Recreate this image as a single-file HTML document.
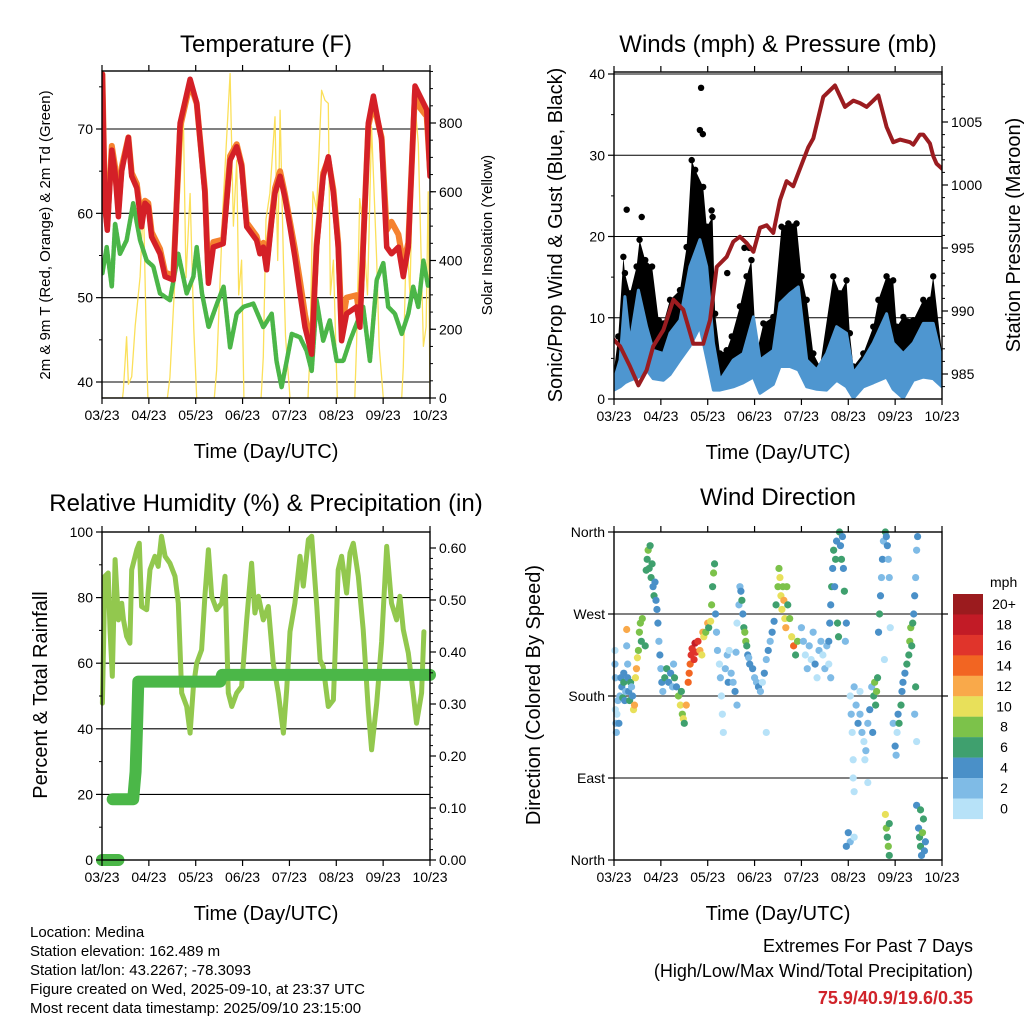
<!DOCTYPE html>
<html><head><meta charset="utf-8"><style>
html,body{margin:0;padding:0;background:#fff;}
svg{display:block;font-family:"Liberation Sans",Arial,sans-serif;}
</style></head><body>
<svg id="chart" width="1024" height="1024" viewBox="0 0 1024 1024" xmlns="http://www.w3.org/2000/svg"></svg>
<script>
// ---------- Temperature panel data (hours since start, deg F / W m-2) ----------
const tempHours=[0.2,1.5,2.7,5,6.7,8.4,10.1,13.5,15.2,17.8,20.3,22,23.7,25.4,29.7,32.3,36.5,40,45.1,48.5,52.7,54.5,57,62.1,65.6,69,71.5,74.1,79.2,80.9,82.6,84.3,86.9,88.6,91.2,93.7,96.3,98.8,101.4,104,107.4,109.9,113.3,115.9,118.5,121,122.7,125.3,130.4,132.1,136.4,139,143.2,145.8,148.3,151.8,154.3,156.9,160.3,162.9,166.3,168];
const temp2m=[76.5,60.8,58,67.5,64.8,59.6,65,69,64.4,63,58.4,61.2,60.8,57.2,55.2,52.5,52.1,70.7,75.9,73.1,62.4,51.7,56,56.4,66.3,67.9,65.6,58.4,56.8,55.2,56,53.3,59.2,62.4,64.4,61.9,58.4,54.8,50.5,46.5,43.3,56,64.4,66.7,62.4,56,44.9,48.1,48.9,46.5,70.7,73.9,68.7,56,55.2,56,52.5,56,75.1,73.9,72.3,64.4];
const temp9m=[76.5,61.2,58.5,68,65.5,60.5,65.5,69,64.8,63.5,59,61.5,61.2,57.8,55.8,53,52.6,70.2,75.4,73,62.8,52.3,56.6,56.9,66.8,68.2,65.8,58.9,57.3,55.7,56.5,53.9,59.5,63,65,62.3,59,55.8,52,48,44,56.3,64.8,66.4,62.8,56.5,46.5,50,50.3,47.5,70.3,73,69,58,59,57.5,54,56.5,74.5,72.5,71.5,65];
const dewHours=[0.2,2.4,5,6.7,9.2,12.6,16,19.5,22.9,26.3,29.7,34.8,39.1,43.4,46.8,48.5,51.2,54.6,58.9,62.3,65.6,69,72.4,77.5,82.6,86.9,89.4,92,94.6,97.2,101.4,104.8,107.4,109.9,113.3,116.7,120.2,123.6,127,130.4,133.8,137.2,140.7,144.1,146.6,150,153.5,156.9,159.4,162,164.6,167.1];
const dewF=[52.9,56,51.3,58.8,55.2,56.8,61.2,56.8,54.4,53.7,50.5,49.7,55.2,50.5,52.5,56,50.5,46.5,49.3,51.3,44.1,48.1,48.9,49.3,46.5,48.1,42.5,39.4,42.5,45.7,45.3,43.7,41.3,49.7,44.9,47.3,42.5,42.5,44.9,46.9,48.9,42.5,52.1,54.1,48.9,48.1,45.7,48.1,51.3,48.9,54.4,51.3];
const solarHours=[0,10.5,10.9,12.6,13.5,15.2,17,19.5,21.2,22.9,23.5,33.5,34.8,38,41.7,43,45.1,47,48.5,57.5,58.7,62,65.6,67.3,69,70,71.5,72.7,81.5,82.6,84,86,88.6,90,91.2,92.9,94,96.3,105.5,106.5,108,109.9,112.5,114.2,115.9,117,118.5,120.5,129.5,130.4,132,133.8,136,138.1,140.7,142,144.1,153.5,154.3,156,157.7,160,162,164.6,166,167.1,168];
const solarW=[0,0,20,178,40,62,210,353,576,120,0,0,60,420,808,350,595,200,0,0,80,560,944,500,692,300,401,0,0,120,520,596,818,400,837,401,180,0,0,130,600,547,895,866,857,300,401,0,0,160,580,498,300,789,400,150,0,0,90,498,300,876,740,150,207,600,0];
// ---------- Winds & pressure panel data ----------
const windHours=[0,3.1,5.6,8.2,12.5,16.7,20.1,25.3,28.7,33.8,38.9,44,47.5,50.9,54.3,61.1,66.2,71.4,74.8,81.6,85,90.1,94.4,98.7,103.8,108.9,114,119.1,122.6,127.7,132.8,139.6,143,148.2,153.3,158.4,163.5,168];
const windHi=[2.3,4.8,12.6,6.9,13.4,8.9,6.0,5.6,8.1,9.7,16.3,19.6,16.3,6.9,2.3,4.8,5.6,10.1,4.8,6.0,11.8,13.0,13.8,4.8,3.6,5.6,8.9,8.1,3.2,4.8,6.9,10.5,6.9,5.6,6.9,9.3,9.3,4.8];
const windLo=[1.1,1.5,2.0,2.3,2.7,3.6,2.5,2.3,3.0,4.8,6.5,8.9,5.0,1.1,1.1,1.5,2.0,2.7,0.7,1.8,4.0,4.0,3.6,1.5,1.2,1.1,2.3,1.5,0.1,1.5,2.0,2.7,1.2,0.1,2.3,2.7,2.5,1.5];
const gustHours=[0,2.2,4.8,5.6,8.2,11.6,13.1,16,19.5,22.9,25.3,28.7,33.8,37.2,39.8,41.6,45.7,47.5,50.5,51.8,54.3,57.7,60.3,64.5,67.9,70.4,73,76.5,81.6,85.8,89.3,93.5,96.1,98.7,102.1,105.5,112.3,115.7,119.1,120.8,122.6,127.7,132.8,135.4,139.6,143,144.8,148.2,153.3,158.4,161.8,163.5,168];
const gustMph=[3.6,7.7,17.5,15.5,13.0,16.3,19.6,17.1,16.3,9.7,9.3,12.2,13.4,18.7,29.4,28.2,26.1,21.2,22.4,10.5,5.6,6.0,7.7,11.4,15.1,17.1,5.6,9.3,10.1,21.2,21.6,21.6,15.1,12.2,5.6,4.0,15.1,13.0,14.6,8.1,4.0,5.6,8.9,12.2,15.1,14.6,8.9,10.1,9.7,12.2,12.2,15.1,5.6];
const gustOutHours=[6.5,14.2,44,44.6,45.5,50,58,66.8,69.2];
const gustOutMph=[23.3,22.4,33.1,38.3,32.6,23.2,15.5,18.6,18.6];
const presHours=[0,3.1,8.2,12.5,16.7,20.1,25.3,30.4,35.5,40.6,45.7,49.2,52.6,57.7,61.1,64.5,67.9,71.4,74.8,78.2,81.6,85,88.4,91.8,97,99.5,102.1,107.2,113.2,118.3,122.6,126,129.4,132.8,135.4,139.6,143,146.5,151.6,153.3,156.7,158.4,161.8,163.5,165.2,168];
const presMb=[987.7,987.2,985.6,984.1,985.3,987.2,988.5,990.9,990.1,987.4,987.4,989.3,993.5,994.3,995.5,995.9,995.4,994.7,996.6,996.8,996.2,998.8,1000.3,999.9,1002.0,1003.0,1003.7,1007.0,1007.9,1006.2,1006.7,1006.5,1006.2,1006.7,1007.1,1004.6,1003.4,1003.6,1003.4,1003.2,1004.0,1004.0,1003.3,1002.3,1001.7,1001.3];
// ---------- RH & precipitation panel data ----------
const rhHours=[0.2,1.5,3.2,4.1,5.3,6.7,8.4,10.1,11,12.6,14.3,15.2,17.8,19.1,20.3,22.9,24.6,27.1,28.8,30.5,32.3,34.8,37.4,39.1,40.8,43.4,45.1,46.8,48.5,51,52.7,54.5,56.2,58.7,61.3,63,64.7,66.5,69,71.5,74.1,76.6,78.3,80.1,82.6,85.2,87.7,90.3,92.9,94.6,96.3,98.8,101.4,103.1,105.7,107.4,110,111.7,113.3,115.9,118.5,121,122.7,125.3,127,128.7,131.3,133.8,136.4,138.1,140.7,143.2,145.8,148.3,150.9,152.6,154.3,156.9,159.4,161.1,163.7,164.9];
const rhPct=[47.8,86.5,87.5,70.2,56,91.6,73.2,78.3,73.2,68.2,66.1,88.5,94.6,96.6,77.3,76.3,88.5,92.6,89.5,98.7,92.6,90.5,86.5,78.3,50.9,46.8,38.7,52.9,60,64.1,80.4,94.6,80.4,76.3,78.3,86.5,50.9,46.8,50.9,52.9,73.2,90.5,75.3,80.4,73.2,77.3,60,50.9,38.7,52,69.6,78.3,92.6,83.5,97.7,98.7,77.3,61,59,46.8,48.8,88.5,92.6,81.4,93.6,96.6,86.5,70.2,45.8,33.6,47.8,66.5,95.6,78.3,73.2,80.4,70.2,63.1,50.9,41.7,50.9,69.6];
const rainHours=[0,8.4,null,5.5,16.0,17.2,18.0,18.6,60.5,61.5,168];
const rainIn=[0,0,null,0.117,0.117,0.17,0.26,0.343,0.343,0.356,0.356];
// ---------- Wind direction panel data (hours, degrees, mph) ----------
const dirHours=[0.5,0.5,0.7,0.7,1,1.2,1.5,2,2.5,3,3.5,4,4.5,5,5,5.5,6,6.5,6.5,7,7,7.5,8,8.5,9,9.5,10,10.5,11,11.5,12,12.5,13,13.5,14,14.5,
16,17,17.5,18,18.5,19,19.5,20,20.5,21,21.5,22,22.5,16.5,
23,23.5,24,24.5,25,26,27,28,29,30,30.5,31,32,33,34,35,35.5,36,34.5,
37,38,38.5,39,39.5,40,41,41.5,42,43,44,45,45.5,46,47,48,48.5,
49.5,50,50.5,51,51.5,52,52.5,
53,54,54.5,55,55.5,56,57,58,58.5,59,60,61,62,62.5,63,
63,64,64.5,65,65.5,66,66.5,67,67.5,68,68.5,69,69.5,
71,72,73,74,75,76,77,78,78,79,80,81,82,
83,84,84.5,85,85.5,86,86.5,87,87.5,88,88.5,89,90,91,92,93,94,
96,97,98,99,100,101,102,103,104,105,106,107,108,109,110,111,
110,110.5,111,111.5,112,112.5,113,113.5,114,114.5,115,115.5,116,116.5,117,117.5,118,118.5,119,
121,121.5,122,122.5,122.5,123,123,124,125,126,126,127,128,128.5,129,130,131,130,132,132.5,120,121,119,123,
133,133.5,134,134.5,135,135.5,136,136.5,137,137.5,138,138.5,139,139.5,140,140.5,141,141.5,139,139.5,140,140.5,141,141,
143,144,144.5,145,145.5,146,147,147.5,148,149,150,151,151.5,152,152.5,153,153.5,154,154.5,155,155.5,154,154.5,155,156,156.5,157,157.5,158,158.5,159,159.5,155,157];
const dirDeg=[230,215,200,165,150,140,160,175,150,180,200,190,178,195,205,175,185,253,235,215,200,185,175,195,190,180,165,170,200,210,222,230,250,260,240,265,
235,330,340,320,345,310,325,300,290,305,285,275,260,318,
240,225,210,195,185,200,210,195,205,190,215,200,190,180,170,160,155,150,185,
170,195,205,215,225,232,220,238,228,240,230,225,250,245,250,260,255,
262,280,300,315,325,270,250,
230,215,200,180,160,140,210,225,195,230,205,195,185,228,170,
260,280,300,295,285,270,255,250,240,235,225,222,215,
210,200,195,190,185,195,205,220,140,230,240,250,262,
280,300,320,310,290,275,300,285,265,255,300,280,265,245,235,225,240,
255,240,225,210,235,220,250,215,200,230,240,225,210,235,215,200,
240,260,280,300,320,340,300,330,350,260,245,360,345,330,355,320,295,240,260,
180,160,140,110,90,75,190,170,150,160,185,140,130,110,120,150,165,85,190,140,30,20,15,25,
180,195,170,185,200,250,270,290,310,330,350,220,360,355,345,330,310,255,50,35,25,15,5,40,
150,125,115,140,160,150,170,185,195,205,215,225,240,255,235,260,270,290,310,340,355,160,190,130,35,25,15,5,30,45,10,20,60,55];
const dirMph=[1,2,2,1,2,2,1,3,4,3,5,4,6,7,4,5,3,12,3,2,5,4,7,6,3,5,11,12,10,12,11,9,8,9,6,8,
7,7,8,7,6,7,6,5,6,4,5,4,4,6,
3,4,2,4,3,6,7,5,4,3,2,6,5,8,10,8,11,7,7,
12,15,15,14,17,16,17,18,16,17,13,11,12,10,8,12,6,
10,8,7,8,6,4,2,
2,1,2,1,0,1,3,2,4,1,3,2,4,3,2,
1,2,3,4,6,5,7,8,9,6,5,3,5,
4,3,2,4,3,1,4,3,1,4,3,4,5,
7,8,8,10,11,10,9,12,11,13,8,7,9,11,15,7,9,
3,2,1,2,3,1,2,4,1,2,3,1,2,3,1,3,
4,5,4,6,5,7,4,6,5,6,7,6,5,6,4,5,6,3,4,
1,2,1,0,0,0,2,3,4,2,1,3,1,0,2,3,4,0,2,4,4,3,4,1,
7,8,6,9,7,5,6,4,3,4,2,1,6,5,4,3,2,1,10,8,7,9,6,6,
2,4,3,1,4,6,7,4,5,4,7,6,8,9,7,6,5,4,3,2,4,2,7,1,4,6,7,5,8,6,4,5,4,6];
const speedColors=['#b7e2f8','#7fbbe6','#4a90c8','#3fa06e','#7cc24a','#e8e05a','#f9a94a','#f26522','#e0342b','#c21b26','#9b1b1e'];
const speedLabels=['0','2','4','6','8','10','12','14','16','18','20+'];
const timeTicks=['03/23','04/23','05/23','06/23','07/23','08/23','09/23','10/23'];

const NS='http://www.w3.org/2000/svg';
const svg=document.getElementById('chart');
function mk(tag,attrs,parent){const e=document.createElementNS(NS,tag);for(const k in attrs)e.setAttribute(k,attrs[k]);(parent||svg).appendChild(e);return e;}
function lin(d0,d1,r0,r1){return v=>r0+(v-d0)*(r1-r0)/(d1-d0);}
function txt(s,x,y,size,anchor,parent,extra){const t=mk('text',Object.assign({x:x,y:y,'font-size':size,'text-anchor':anchor||'middle',fill:'#000'},extra||{}),parent);t.textContent=s;return t;}
function poly(xs,ys,fx,fy,parent,style){let d='',pen=false;for(let i=0;i<xs.length;i++){if(xs[i]===null){pen=false;continue;}d+=(pen?'L':'M')+fx(xs[i]).toFixed(1)+','+fy(ys[i]).toFixed(1);pen=true;}return mk('path',Object.assign({d:d,fill:'none','stroke-linejoin':'round','stroke-linecap':'round'},style),parent);}

function frame(p,name){
  const g=mk('g',{});
  
  
  return g;
}
function timeAxis(p,g){
  const fx=lin(0,168,p.x0,p.x1);
  for(let i=0;i<timeTicks.length;i++){
    const x=fx(i*24);
    mk('line',{x1:x,y1:p.y1,x2:x,y2:p.y1+6,stroke:'#000','stroke-width':1.2},g);
    mk('line',{x1:x,y1:p.y0,x2:x,y2:p.y0-6,stroke:'#000','stroke-width':1.2},g);
    const t=txt(timeTicks[i],x,p.y1+22,14,'middle',g);
    
    
  }
  const xl=txt('Time (Day/UTC)',(p.x0+p.x1)/2,p.y1+60,20,'middle',g);
  
  
}
function border(p,g){mk('rect',{x:p.x0,y:p.y0,width:p.x1-p.x0,height:p.y1-p.y0,fill:'none',stroke:'#000','stroke-width':1.4},g);}
function grid(p,g,fy,vals){vals.forEach(v=>mk('line',{x1:p.x0,x2:p.x1,y1:fy(v),y2:fy(v),stroke:'#000','stroke-width':1.1},g));}
function leftTicks(p,g,fy,major,minor,labels){
  minor.forEach(v=>mk('line',{x1:p.x0,x2:p.x0-3,y1:fy(v),y2:fy(v),stroke:'#000','stroke-width':1},g));
  major.forEach((v,i)=>{mk('line',{x1:p.x0,x2:p.x0-6,y1:fy(v),y2:fy(v),stroke:'#000','stroke-width':1.2},g);
    const t=txt(labels[i],p.x0-9,fy(v)+5,14,'end',g);
    
    });
}
function rightTicks(p,g,fy,major,minor,labels){
  minor.forEach(v=>mk('line',{x1:p.x1,x2:p.x1+3,y1:fy(v),y2:fy(v),stroke:'#000','stroke-width':1},g));
  major.forEach((v,i)=>{mk('line',{x1:p.x1,x2:p.x1+6,y1:fy(v),y2:fy(v),stroke:'#000','stroke-width':1.2},g);
    const t=txt(labels[i],p.x1+9,fy(v)+5,14,'start',g);
    
    });
}
function range(a,b,s){const r=[];for(let v=a;v<=b+1e-9;v+=s)r.push(+v.toFixed(4));return r;}
function vlabel(s,x,y,size,g,name){const t=txt(s,x,y,size,'middle',g,{transform:'rotate(-90 '+x+' '+y+')'});}

// ===== Panel 1 Temperature =====
(function(){
  const p={x0:102,x1:430,y0:71,y1:398};
  const g=frame(p,'temperature-panel');
  const fx=lin(0,168,p.x0,p.x1), fy=lin(40,70,382,129), fr=lin(0,800,398,123);
  const t=txt('Temperature (F)',266,52,24,'middle',g);
  grid(p,g,fy,[40,50,60,70]);
  const clip=mk('clipPath',{id:'c1'},g);mk('rect',{x:p.x0,y:p.y0,width:p.x1-p.x0,height:p.y1-p.y0},clip);
  const d=mk('g',{'clip-path':'url(#c1)'},g);
  const sol=poly(solarHours,solarW,fx,fr,d,{stroke:'#fbe05a','stroke-width':1.3});
  
  
  const dew=poly(dewHours,dewF,fx,fy,d,{stroke:'#4bb648','stroke-width':4.5,'stroke-dasharray':'3 1.2'});
  
  
  const o=poly(tempHours,temp9m,fx,fy,d,{stroke:'#f5822f','stroke-width':6});
  
  
  const r=poly(tempHours,temp2m,fx,fy,d,{stroke:'#d42027','stroke-width':5.5});
  
  
  border(p,g);
  leftTicks(p,g,fy,[40,50,60,70],[45,55,65,75],['40','50','60','70']);
  rightTicks(p,g,fr,[0,200,400,600,800],range(0,950,50),['0','200','400','600','800']);
  timeAxis(p,g);
  vlabel('2m & 9m T (Red, Orange) & 2m Td (Green)',50,235,15,g,'temperature-y-axis-title');
  vlabel('Solar Insolation (Yellow)',492,235,15,g,'solar-y-axis-title');
})();

// ===== Panel 2 Winds & Pressure =====
(function(){
  const p={x0:614,x1:942,y0:72,y1:399};
  const g=frame(p,'winds-pressure-panel');
  const fx=lin(0,168,p.x0,p.x1), fy=lin(0,40,399,74), fr=lin(985,1005,374,122);
  const t=txt('Winds (mph) & Pressure (mb)',778,52,24,'middle',g);
  grid(p,g,fy,[10,20,30,40]);
  const clip=mk('clipPath',{id:'c2'},g);mk('rect',{x:p.x0,y:p.y0-1,width:p.x1-p.x0,height:p.y1-p.y0+1},clip);
  const d=mk('g',{'clip-path':'url(#c2)'},g);
  let pts=gustHours.map((h,i)=>fx(h).toFixed(1)+','+fy(gustMph[i]).toFixed(1));
  for(let i=windHours.length-1;i>=0;i--)pts.push(fx(windHours[i]).toFixed(1)+','+fy(windLo[i]).toFixed(1));
  const gp=mk('polygon',{points:pts.join(' '),fill:'#000'},d);
  
  
  gustHours.forEach((h,i)=>{const c=mk('circle',{cx:fx(h),cy:fy(gustMph[i]),r:3.2,fill:'#000'},d);
    
    });
  gustOutHours.forEach((h,i)=>{const c=mk('circle',{cx:fx(h),cy:fy(gustOutMph[i]),r:3.2,fill:'#000'},d);
    
    });
  let wp=windHours.map((h,i)=>fx(h).toFixed(1)+','+fy(windHi[i]).toFixed(1));
  for(let i=windHours.length-1;i>=0;i--)wp.push(fx(windHours[i]).toFixed(1)+','+fy(windLo[i]).toFixed(1));
  const wb=mk('polygon',{points:wp.join(' '),fill:'#4e96d0',stroke:'#4e96d0','stroke-width':3,'stroke-linejoin':'round'},d);
  
  
  const pr=poly(presHours,presMb,fx,fr,d,{stroke:'#9b1c20','stroke-width':4});
  
  
  border(p,g);
  leftTicks(p,g,fy,[0,10,20,30,40],[5,15,25,35],['0','10','20','30','40']);
  rightTicks(p,g,fr,[985,990,995,1000,1005],range(984,1008,1),['985','990','995','1000','1005']);
  timeAxis(p,g);
  vlabel('Sonic/Prop Wind & Gust (Blue, Black)',562,235,20,g,'wind-y-axis-title');
  vlabel('Station Pressure (Maroon)',1020,235,20,g,'pressure-y-axis-title');
})();

// ===== Panel 3 RH & precipitation =====
(function(){
  const p={x0:102,x1:430,y0:532,y1:860};
  const g=frame(p,'humidity-precip-panel');
  const fx=lin(0,168,p.x0,p.x1), fy=lin(0,100,860,532), fr=lin(0,0.6,860,548);
  const t=txt('Relative Humidity (%) & Precipitation (in)',266,511,24,'middle',g);
  grid(p,g,fy,[20,40,60,80]);
  const rh=poly(rhHours,rhPct,fx,fy,g,{stroke:'#92c84e','stroke-width':5});
  
  
  const rn=poly(rainHours,rainIn,fx,fr,g,{stroke:'#4bb748','stroke-width':12});
  
  
  border(p,g);
  leftTicks(p,g,fy,[0,20,40,60,80,100],[10,30,50,70,90],['0','20','40','60','80','100']);
  rightTicks(p,g,fr,[0,0.1,0.2,0.3,0.4,0.5,0.6],range(0,0.6,0.02),['0.00','0.10','0.20','0.30','0.40','0.50','0.60']);
  timeAxis(p,g);
  vlabel('Percent & Total Rainfall',47,695,20,g,'humidity-y-axis-title');
})();

// ===== Panel 4 Wind direction =====
(function(){
  const p={x0:614,x1:942,y0:532,y1:860};
  const g=frame(p,'wind-direction-panel');
  const fx=lin(0,168,p.x0,p.x1), fy=lin(0,360,860,532);
  const t=txt('Wind Direction',778,505,24,'middle',g);
  grid(p,g,fy,[90,180,270]);
  dirHours.forEach((h,i)=>{const k=Math.min(10,Math.floor(dirMph[i]/2));
    const c=mk('circle',{cx:fx(h),cy:fy(dirDeg[i]),r:3.6,fill:speedColors[k]},g);
    
    });
  border(p,g);
  leftTicks(p,g,fy,[0,90,180,270,360],[],['North','East','South','West','North']);
  [90,180,270].forEach(v=>mk('line',{x1:p.x1,x2:p.x1+6,y1:fy(v),y2:fy(v),stroke:'#000','stroke-width':1.2},g));
  timeAxis(p,g);
  vlabel('Direction (Colored By Speed)',540,695,20,g,'direction-y-axis-title');
  const lg=mk('g',{});
  
  
  const mt=txt('mph',990,587,14,'start',lg);
  for(let i=0;i<11;i++){const k=10-i;const y=594+i*20.45;
    const r=mk('rect',{x:953,y:y,width:30,height:20.6,fill:speedColors[k]},lg);
    
    
    const l=txt(speedLabels[k],1004,y+15,14,'middle',lg);
    
    }
})();

// ===== footer =====
(function(){
  const g=mk('g',{});
  
  
  ['Location: Medina','Station elevation: 162.489 m','Station lat/lon: 43.2267; -78.3093','Figure created on Wed, 2025-09-10, at 23:37 UTC','Most recent data timestamp: 2025/09/10 23:15:00'].forEach((s,i)=>{
    const t=txt(s,30,937+i*19,15,'start',g);
    
    });
  const h=mk('g',{});
  
  
  txt('Extremes For Past 7 Days',973,952,18,'end',h);
  txt('(High/Low/Max Wind/Total Precipitation)',973,977,18,'end',h);
  const v=txt('75.9/40.9/19.6/0.35',973,1004,18,'end',h,{fill:'#d0232a','font-weight':'bold'});
  
  
})();
</script>
</body></html>
